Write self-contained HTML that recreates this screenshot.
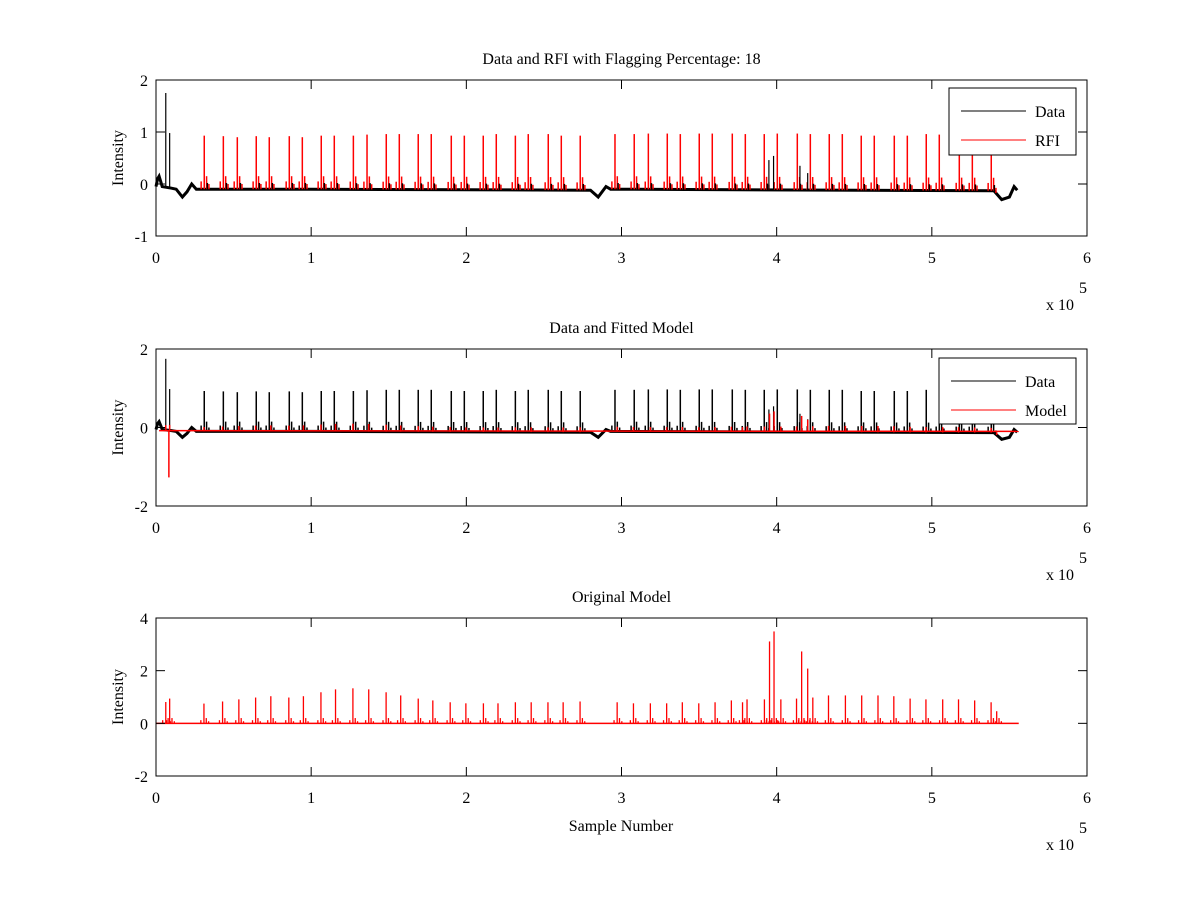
<!DOCTYPE html>
<html><head><meta charset="utf-8"><style>
body{margin:0;background:#fff}
svg text{font-family:"Liberation Serif",serif;font-size:16px;fill:#000}
</style></head><body>
<svg id="fig" width="1200" height="900" viewBox="0 0 1200 900" xmlns="http://www.w3.org/2000/svg"></svg>
<script>
// ---- data (x in units of 1e5 samples) ----
const rfiX = [0.311,0.434,0.524,0.646,0.730,0.859,0.943,1.065,1.149,1.272,1.360,1.484,1.568,1.690,1.774,1.903,1.987,2.109,2.193,2.316,2.399,2.528,2.612,2.734,2.958,3.082,3.173,3.295,3.379,3.501,3.585,3.714,3.798,3.920,4.004,4.133,4.217,4.339,4.423,4.545,4.629,4.758,4.842,4.964,5.048,5.177,5.261,5.383];
const rfiH = [0.93,0.92,0.9,0.92,0.9,0.92,0.9,0.93,0.93,0.93,0.95,0.96,0.96,0.96,0.96,0.93,0.93,0.93,0.96,0.93,0.96,0.96,0.93,0.93,0.96,0.96,0.97,0.97,0.96,0.97,0.97,0.97,0.96,0.96,0.97,0.97,0.96,0.96,0.96,0.93,0.93,0.93,0.93,0.96,0.95,0.95,0.95,0.93];
const dataBaseX = [0,0.01,0.02,0.03,0.04,0.1,0.13,0.17,0.2,0.23,0.26,1.0,2.8,2.85,2.9,2.93,5.4,5.45,5.5,5.53,5.55];
const dataBaseY = [-0.05,0.1,0.15,0.05,-0.05,-0.08,-0.1,-0.25,-0.15,0,-0.1,-0.1,-0.12,-0.25,-0.05,-0.1,-0.13,-0.3,-0.25,-0.05,-0.12];
const extraDataX = [0.063,0.088,3.95,3.98,4.15,4.20];
const extraDataH1 = [1.75,0.98,0.46,0.54,0.35,0.21];
const modelX = [0.063,0.088,0.309,0.429,0.534,0.642,0.740,0.856,0.950,1.063,1.157,1.269,1.371,1.483,1.577,1.690,1.784,1.896,1.997,2.110,2.204,2.316,2.418,2.526,2.624,2.733,2.972,3.077,3.186,3.291,3.392,3.498,3.603,3.708,3.780,3.809,3.921,3.954,3.983,4.027,4.128,4.161,4.200,4.233,4.334,4.443,4.548,4.653,4.755,4.860,4.962,5.070,5.172,5.276,5.382,5.418];
const modelH = [0.81,0.94,0.75,0.83,0.91,0.98,1.03,0.98,1.03,1.18,1.29,1.33,1.29,1.18,1.06,0.94,0.87,0.80,0.76,0.76,0.76,0.80,0.80,0.80,0.80,0.83,0.80,0.76,0.76,0.76,0.80,0.76,0.80,0.87,0.80,0.91,0.91,3.11,3.49,0.91,0.94,2.73,2.08,0.98,1.06,1.06,1.06,1.06,1.03,0.94,0.91,0.91,0.91,0.87,0.80,0.46];
const smallOff = [-0.02,0.015,0.03];
const smallH = [0.15,0.25,0.1];
const xTicks = [0,1,2,3,4,5,6];

const NS="http://www.w3.org/2000/svg";
const svg=document.getElementById('fig');
function el(tag,attrs,parent){const e=document.createElementNS(NS,tag);for(const k in attrs)e.setAttribute(k,attrs[k]);(parent||svg).appendChild(e);return e;}
const L=156,R=1087;
const sx=v=>L+(v/6)*(R-L);

function axes(top,bottom,ymin,ymax,yTicks,title,name){
  const g=el('g',{});
  
  
  const sy=v=>bottom-(v-ymin)/(ymax-ymin)*(bottom-top);
  el('rect',{x:L,y:top,width:R-L,height:bottom-top,fill:'#fff',stroke:'none'},g);
  return {g,sy,top,bottom,yTicks,title,ymin,ymax};
}
function finishAxes(a){
  const g=a.g, sy=a.sy;
  const frame=el('rect',{x:L,y:a.top,width:R-L,height:a.bottom-a.top,fill:'none',stroke:'#000','stroke-width':1},g);
  
  
  xTicks.forEach(t=>{
    const x=sx(t);
    el('line',{x1:x,x2:x,y1:a.bottom,y2:a.bottom-9,stroke:'#000'},g);
    el('line',{x1:x,x2:x,y1:a.top,y2:a.top+9,stroke:'#000'},g);
    const tx=el('text',{x:x,y:a.bottom+27,'text-anchor':'middle'},g);
    tx.textContent=t;
    
    
  });
  a.yTicks.forEach(t=>{
    const y=sy(t);
    el('line',{x1:L,x2:L+9,y1:y,y2:y,stroke:'#000'},g);
    el('line',{x1:R,x2:R-9,y1:y,y2:y,stroke:'#000'},g);
    const tx=el('text',{x:L-8,y:y+6,'text-anchor':'end'},g);
    tx.textContent=t;
    
    
  });
  const ti=el('text',{x:(L+R)/2,y:a.top-16,'text-anchor':'middle'},g);
  ti.textContent=a.title;
  
  
  const yl=el('text',{x:0,y:0,'text-anchor':'middle',transform:`translate(123,${(a.top+a.bottom)/2}) rotate(-90)`},g);
  yl.textContent='Intensity';
  
  
  const ex=el('text',{x:1046,y:a.bottom+74},g);
  ex.textContent='x 10';
  
  
  const e5=el('text',{x:1079,y:a.bottom+57,'font-size':'12'},g);
  e5.textContent='5';
  
  
}
function basePath(sy){
  return dataBaseX.map((x,i)=>(i?'L':'M')+sx(x).toFixed(1)+' '+sy(dataBaseY[i]).toFixed(1)).join(' ');
}
function baseAt(x){
  for(let i=1;i<dataBaseX.length;i++){if(x<=dataBaseX[i]){const t=(x-dataBaseX[i-1])/(dataBaseX[i]-dataBaseX[i-1]);return dataBaseY[i-1]+t*(dataBaseY[i]-dataBaseY[i-1]);}}
  return -0.12;
}
// h relative to baseline
function spike(g,x,h,color,sy,w,name){
  const b=baseAt(x);
  const s=el('line',{x1:sx(x),x2:sx(x),y1:sy(b),y2:sy(b+h),stroke:color,'stroke-width':w||1},g);
  
  
}
// absolute top value
function spikeAbs(g,x,top,color,sy,w,name){
  const b=baseAt(x);
  const s=el('line',{x1:sx(x),x2:sx(x),y1:sy(b),y2:sy(top),stroke:color,'stroke-width':w||1},g);
  
  
}
function legend(g,x,y,w,h,items,name){
  const lg=el('g',{},g);
  
  
  el('rect',{x:x,y:y,width:w,height:h,fill:'#fff',stroke:'#000'},lg);
  items.forEach((it,i)=>{
    const yy=y+23+i*29;
    el('line',{x1:x+12,x2:x+77,y1:yy,y2:yy,stroke:it[1]},lg);
    const t=el('text',{x:x+86,y:yy+6},lg);
    t.textContent=it[0];
    
    
  });
}

// ---- Plot 1 ----
const a1=axes(80,236,-1,2,[-1,0,1,2],'Data and RFI with Flagging Percentage: 18','rfi-plot');
el('path',{d:basePath(a1.sy),fill:'none',stroke:'#000','stroke-width':3},a1.g);
rfiX.forEach((x,i)=>{
  smallOff.forEach((o,j)=>spike(a1.g,x+o,smallH[j],'#f00',a1.sy,1.5,'rfi-small-spike'));
  spike(a1.g,x+0.02,0.12,'#000',a1.sy,1.5,'data-small-spike');
  spikeAbs(a1.g,x,rfiH[i],'#f00',a1.sy,1.5,'rfi-spike');
});
extraDataX.forEach((x,i)=>spikeAbs(a1.g,x,extraDataH1[i],'#000',a1.sy,1.2,'data-spike'));
finishAxes(a1);
legend(a1.g,949,88,127,67,[['Data','#000'],['RFI','#f00']],'legend-rfi');

// ---- Plot 2 ----
const a2=axes(349,506,-2,2,[-2,0,2],'Data and Fitted Model','model-fit-plot');
el('path',{d:basePath(a2.sy),fill:'none',stroke:'#000','stroke-width':3},a2.g);
rfiX.forEach((x,i)=>{
  spikeAbs(a2.g,x,rfiH[i],'#000',a2.sy,1.5,'data-spike');
  smallOff.forEach((o,j)=>spike(a2.g,x+o,smallH[j],'#000',a2.sy,1.5,'data-small-spike'));
});
extraDataX.forEach((x,i)=>spikeAbs(a2.g,x,extraDataH1[i],'#000',a2.sy,1.2,'data-spike'));
el('line',{x1:sx(0.02),x2:sx(5.56),y1:a2.sy(-0.08),y2:a2.sy(-0.1),stroke:'#f00','stroke-width':1.5},a2.g);
modelX.forEach((x,i)=>spike(a2.g,x,modelH[i]*0.15,'#f00',a2.sy,1.5,'model-spike'));
spike(a2.g,0.083,-1.2,'#f00',a2.sy,1.5,'model-negative-spike');
finishAxes(a2);
legend(a2.g,939,358,137,66,[['Data','#000'],['Model','#f00']],'legend-model');

// ---- Plot 3 ----
const a3=axes(618,776,-2,4,[-2,0,2,4],'Original Model','original-model-plot');
el('line',{x1:sx(0),x2:sx(5.56),y1:a3.sy(0),y2:a3.sy(0),stroke:'#f00','stroke-width':1.5},a3.g);
modelX.forEach((x,i)=>{
  const s=el('line',{x1:sx(x),x2:sx(x),y1:a3.sy(0),y2:a3.sy(modelH[i]),stroke:'#f00','stroke-width':1.3},a3.g);
  
  
  smallOff.forEach((o,j)=>{
    const t=el('line',{x1:sx(x+o),x2:sx(x+o),y1:a3.sy(0),y2:a3.sy(smallH[j]*0.8),stroke:'#f00','stroke-width':1.3},a3.g);
    
    
  });
});
finishAxes(a3);
const xl=el('text',{x:621,y:831,'text-anchor':'middle'});
xl.textContent='Sample Number';


</script>
</body></html>
